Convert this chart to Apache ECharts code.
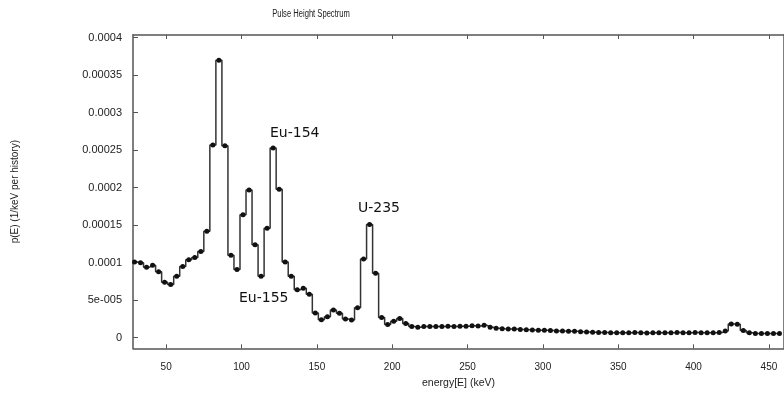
<!DOCTYPE html>
<html>
<head>
<meta charset="utf-8">
<script src="https://cdn.jsdelivr.net/npm/echarts@6/dist/echarts.min.js"></script>
<style>
html,body{margin:0;padding:0;background:#fff;}
#c{width:784px;height:401px;}
</style>
</head>
<body>
<div id="c"></div>
<script>
// Bin centres (keV)
const energies = [29,33,37,41,45,49,53,57,61,65,69,73,77,81,85,89,93,97,101,105,109,113,117,121,125,129,133,137,141,145,149,153,157,161,165,169,173,177,181,185,189,193,197,201,205,209,213,217,221,225,229,233,237,241,245,249,253,257,261,265,269,273,277,281,285,289,293,297,301,305,309,313,317,321,325,329,333,337,341,345,349,353,357,361,365,369,373,377,381,385,389,393,397,401,405,409,413,417,421,425,429,433,437,441,445,449,453,457];
// p(E) values (1/keV per history)
const pE = [10.1e-5,10.0e-5,9.4e-5,9.65e-5,8.8e-5,7.4e-5,7.1e-5,8.2e-5,9.5e-5,10.4e-5,10.7e-5,11.5e-5,14.2e-5,25.7e-5,37.0e-5,25.6e-5,11.0e-5,9.1e-5,16.4e-5,19.7e-5,12.4e-5,8.2e-5,14.6e-5,25.3e-5,19.8e-5,10.1e-5,8.2e-5,6.4e-5,6.6e-5,5.8e-5,3.3e-5,2.4e-5,2.8e-5,3.7e-5,3.25e-5,2.5e-5,2.35e-5,4.0e-5,10.5e-5,15.1e-5,8.6e-5,2.7e-5,1.75e-5,2.2e-5,2.55e-5,1.9e-5,1.5e-5,1.4e-5,1.5e-5,1.5e-5,1.5e-5,1.5e-5,1.52e-5,1.5e-5,1.52e-5,1.52e-5,1.6e-5,1.55e-5,1.65e-5,1.4e-5,1.25e-5,1.18e-5,1.15e-5,1.15e-5,1.1e-5,1.05e-5,1.03e-5,1.0e-5,1.0e-5,0.95e-5,0.9e-5,0.88e-5,0.85e-5,0.85e-5,0.8e-5,0.75e-5,0.72e-5,0.7e-5,0.68e-5,0.66e-5,0.66e-5,0.65e-5,0.66e-5,0.68e-5,0.65e-5,0.64e-5,0.66e-5,0.65e-5,0.67e-5,0.66e-5,0.68e-5,0.67e-5,0.67e-5,0.68e-5,0.67e-5,0.66e-5,0.67e-5,0.68e-5,0.9e-5,1.83e-5,1.78e-5,0.95e-5,0.65e-5,0.55e-5,0.55e-5,0.56e-5,0.55e-5,0.57e-5];
// Tick values and labels
const xTickValues = [50,100,150,200,250,300,350,400,450];
const yTickValues = [0,0.00005,0.0001,0.00015,0.0002,0.00025,0.0003,0.00035,0.0004];
const yTickLabels = ['0','5e-005','0.0001','0.00015','0.0002','0.00025','0.0003','0.00035','0.0004'];
const titleText = 'Pulse Height Spectrum';
const xName = 'energy[E] (keV)';
const yName = 'p(E) (1/keV per history)';
const annotations = ['Eu-154','U-235','Eu-155'];

const chart = echarts.init(document.getElementById('c'), null, {renderer:'canvas'});
const axisCol = '#555';
const txtCol = '#222';
const xMin = 28, xMax = 460, yMin = -0.0000141, yMax = 0.0004036;
function yFmt(v){
  let best = 0, d = Infinity;
  yTickValues.forEach((t,i)=>{ if (Math.abs(t-v)<d){d=Math.abs(t-v);best=i;} });
  return yTickLabels[best];
}
const data = energies.map((e,i)=>[e,pE[i]]);
const option = {
  animation:false,
  backgroundColor:'#fff',
  grid:{left:133,top:35,width:656.6,height:313.3,show:false},
  xAxis:[{
    type:'value',min:xMin,max:xMax,position:'bottom',
    axisLine:{show:true,onZero:false,lineStyle:{color:axisCol,width:1.5}},
    axisTick:{show:true,inside:true,length:4,customValues:xTickValues,lineStyle:{color:axisCol,width:1}},
    axisLabel:{show:true,customValues:xTickValues,margin:14,fontSize:10,fontFamily:'Liberation Sans, Arial',color:txtCol},
    splitLine:{show:false},
    name:xName,nameLocation:'middle',nameGap:28,
    nameTextStyle:{fontSize:10.5,fontFamily:'Liberation Sans, Arial',color:txtCol}
  },{
    type:'value',min:xMin,max:xMax,position:'top',
    axisLine:{show:true,onZero:false,lineStyle:{color:axisCol,width:1.5}},
    axisTick:{show:true,inside:true,length:4,customValues:xTickValues,lineStyle:{color:axisCol,width:1}},
    axisLabel:{show:false},splitLine:{show:false}
  }],
  yAxis:[{
    type:'value',min:yMin,max:yMax,position:'left',
    axisLine:{show:true,onZero:false,lineStyle:{color:axisCol,width:1.5}},
    axisTick:{show:true,inside:true,length:5,customValues:yTickValues,lineStyle:{color:axisCol,width:1}},
    axisLabel:{show:true,customValues:yTickValues,formatter:yFmt,margin:11,fontSize:11,fontFamily:'Liberation Sans, Arial',color:txtCol},
    splitLine:{show:false},
    name:yName,nameLocation:'middle',nameGap:113,nameRotate:90,
    nameTextStyle:{fontSize:10,fontFamily:'Liberation Sans, Arial',color:txtCol}
  },{
    type:'value',min:yMin,max:yMax,position:'right',
    axisLine:{show:true,onZero:false,lineStyle:{color:axisCol,width:1.5}},
    axisTick:{show:false},axisLabel:{show:false},splitLine:{show:false}
  }],
  series:[{
    type:'line',step:'middle',data:data,xAxisIndex:0,yAxisIndex:0,
    showSymbol:true,showAllSymbol:true,symbol:'circle',symbolSize:5,
    itemStyle:{color:'#111'},
    lineStyle:{color:'#333',width:1.5},
    clip:true
  }],
  graphic:[
    {type:'text',x:311,y:14,scaleX:0.76,style:{text:titleText,font:'10px "Liberation Sans", Arial',fill:txtCol,textAlign:'center',textVerticalAlign:'middle'}},
    {type:'text',left:270,top:126,style:{text:annotations[0],font:'14px "DejaVu Sans"',fill:'#111'}},
    {type:'text',left:358,top:201,style:{text:annotations[1],font:'14px "DejaVu Sans"',fill:'#111'}},
    {type:'text',left:239,top:291,style:{text:annotations[2],font:'14px "DejaVu Sans"',fill:'#111'}}
  ]
};
chart.setOption(option);
</script>
</body>
</html>
